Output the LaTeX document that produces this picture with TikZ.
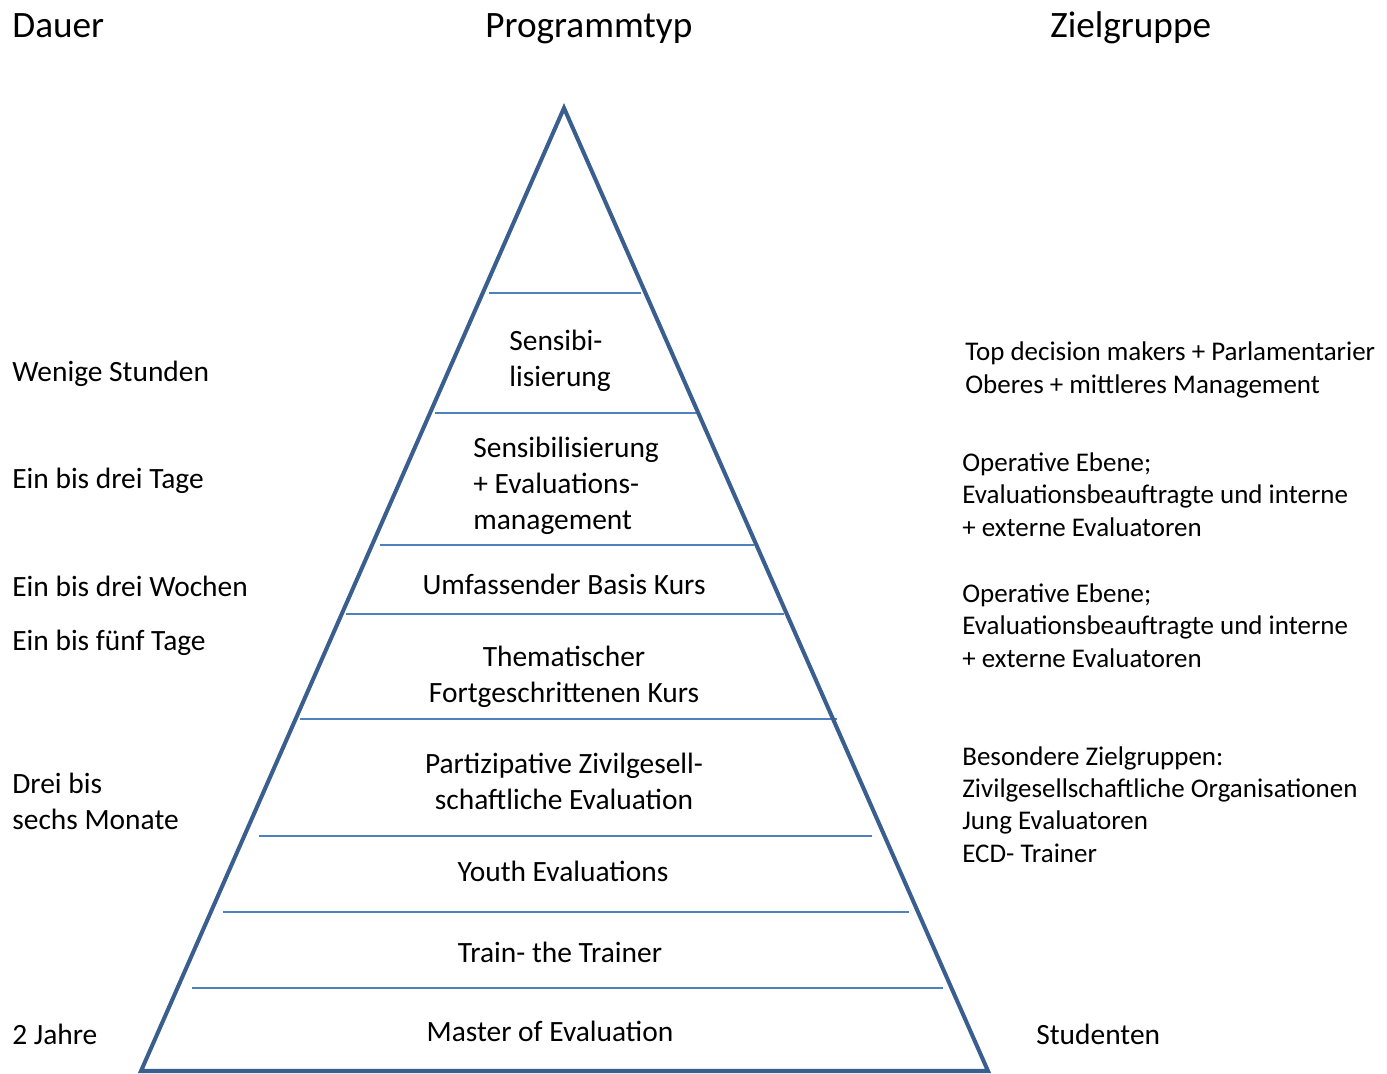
\documentclass[tikz,border=0pt]{standalone}
\usepackage{fontspec}
\setmainfont{Carlito}
\usepackage{xcolor}
\usepackage{tikz}
\definecolor{edge}{HTML}{3A5F8E}
\definecolor{tierline}{HTML}{4F81BD}
\definecolor{ink}{HTML}{000000}
\newcommand\headfont{\fontsize{21.2}{25}\selectfont}
\newcommand\bodyfont{\fontsize{16.75}{20.4}\selectfont}
\newcommand\sidefont{\fontsize{15.35}{18.4}\selectfont}
\tikzset{
  pyr/.style={draw=edge, line width=2.3pt, line join=miter},
  tier/.style={draw=tierline, line width=1.2pt},
  head/.style={text=ink, font=\headfont, inner sep=0pt, anchor=base west},
  dur/.style={text=ink, font=\bodyfont, inner sep=0pt, anchor=base west, align=left},
  lvl/.style={text=ink, font=\bodyfont, inner sep=0pt, anchor=base, align=center},
  lvll/.style={text=ink, font=\bodyfont, inner sep=0pt, anchor=base west, align=left},
  grp/.style={text=ink, font=\sidefont, inner sep=0pt, anchor=base west, align=left},
}
\begin{document}
\begin{tikzpicture}[x=0.02cm, y=-0.02cm]
  \useasboundingbox (0,0) rectangle (1387,1073);

  \coordinate (apex) at (564,108);
  \coordinate (bl) at (141,1071);
  \coordinate (br) at (988,1071);

  \foreach \y/\xa/\xb in {293/489/641, 413/435/698, 545/380/754, 614/346/784,
      719/300/837, 836/259/872, 912/223/909, 988/192/943}
    \draw[tier] (\xa,\y) -- (\xb,\y);
  \draw[pyr] (apex) -- (br) -- (bl) -- cycle;

  % headings
  \node[head] (hdur) at (12,37) {Dauer};
  \node[head] (htyp) at (485,37) {Programmtyp};
  \node[head] (hgrp) at (1050,37) {Zielgruppe};

  % Dauer (multi-line nodes sit on their last line)
  \node[dur] (d1) at (12,381) {Wenige Stunden};
  \node[dur] (d2) at (12,488) {Ein bis drei Tage};
  \node[dur] (d3) at (12,596) {Ein bis drei Wochen};
  \node[dur] (d4) at (12,650) {Ein bis fünf Tage};
  \node[dur] (d5) at (12,829) {Drei bis\\sechs Monate};
  \node[dur] (d6) at (12,1044) {2 Jahre};

  % Programmtyp
  \node[lvll] (p1) at (509,386) {Sensibi-\\lisierung};
  \node[lvll] (p2) at (473,529) {Sensibilisierung\\+ Evaluations-\\management};
  \node[lvl] (p3) at (564,594) {Umfassender Basis Kurs};
  \node[lvl] (p4) at (564,702) {Thematischer\\Fortgeschrittenen Kurs};
  \node[lvl] (p5) at (564,809) {Partizipative Zivilgesell-\\schaftliche Evaluation};
  \node[lvl] (p6) at (563,881) {Youth Evaluations};
  \node[lvl] (p7) at (560,962) {Train- the Trainer};
  \node[lvl] (p8) at (550,1041) {Master of Evaluation};

  % Zielgruppe
  \node[grp] (z1) at (965,393) {Top decision makers + Parlamentarier\\Oberes + mittleres Management};
  \node[grp] (z2) at (962,536) {Operative Ebene;\\Evaluationsbeauftragte und interne\\+ externe Evaluatoren};
  \node[grp] (z3) at (962,667) {Operative Ebene;\\Evaluationsbeauftragte und interne\\+ externe Evaluatoren};
  \node[grp] (z4) at (962,862) {Besondere Zielgruppen:\\Zivilgesellschaftliche Organisationen\\Jung Evaluatoren\\ECD- Trainer};
  \node[dur] (z5) at (1036,1044) {Studenten};
\end{tikzpicture}
\end{document}
